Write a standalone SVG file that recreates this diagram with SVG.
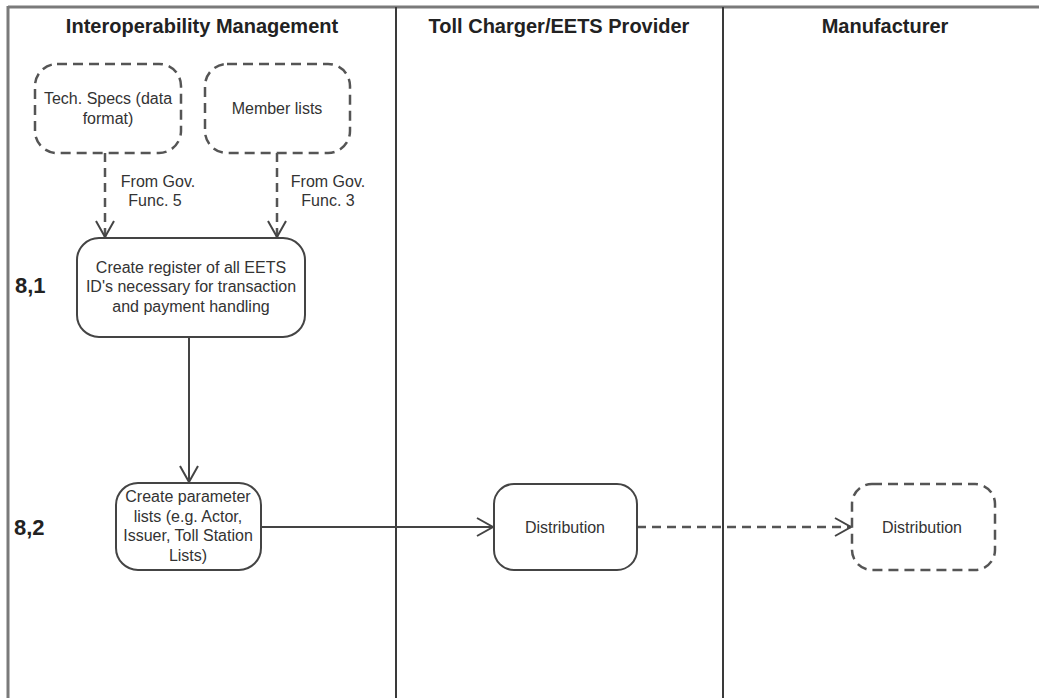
<svg xmlns="http://www.w3.org/2000/svg" width="1039" height="698" viewBox="0 0 1039 698">
  <style>
    .lane { stroke: #3a3a3a; stroke-width: 2; fill: none; }
    .frame { stroke: #7a7a7a; stroke-width: 3; fill: none; }
    .hdr { font-family: "Liberation Sans", Arial, sans-serif; font-weight: bold; font-size: 20px; fill: #222; text-anchor: middle; }
    .step { font-family: "Liberation Sans", Arial, sans-serif; font-weight: bold; font-size: 22px; fill: #222; }
    .lbl { font-family: "Liberation Sans", Arial, sans-serif; font-size: 16px; fill: #333; text-anchor: middle; }
    .box { fill: #fff; stroke: #444; stroke-width: 2; }
    .dbox { fill: #fff; stroke: #555; stroke-width: 2.5; stroke-dasharray: 10 6; }
    .flow { stroke: #444; stroke-width: 2; fill: none; marker-end: url(#arrow); }
    .dflow { stroke: #555; stroke-width: 2.5; fill: none; stroke-dasharray: 9 6; marker-end: url(#arrow); }
  </style>
  <defs>
    <marker id="arrow" markerUnits="userSpaceOnUse" markerWidth="20" markerHeight="22" viewBox="-18 -11 20 22" refX="0" refY="0" orient="auto">
      <path d="M -16 -9 L 0 0 L -16 9" fill="none" stroke="#444" stroke-width="2"/>
    </marker>
  </defs>

  <rect width="1039" height="698" fill="#fff"/>

  <!-- swimlane frame -->
  <g id="lanes">
    <line class="frame" x1="8" y1="7" x2="1039" y2="7"/>
    <line class="frame" x1="8" y1="6" x2="8" y2="698"/>
    <line class="lane" x1="396" y1="7" x2="396" y2="698"/>
    <line class="lane" x1="723" y1="7" x2="723" y2="698"/>
    <text class="hdr" x="202" y="33">Interoperability Management</text>
    <text class="hdr" x="559" y="33">Toll Charger/EETS Provider</text>
    <text class="hdr" x="885" y="33">Manufacturer</text>
    <text class="step" x="15" y="293">8,1</text>
    <text class="step" x="14" y="535">8,2</text>
  </g>

  <!-- connectors -->
  <g id="connectors">
    <line class="dflow" x1="105" y1="153" x2="105" y2="237"/>
    <line class="dflow" x1="277" y1="153" x2="277" y2="237"/>
    <text class="lbl" x="158" y="187">From Gov.</text>
    <text class="lbl" x="155" y="206">Func. 5</text>
    <text class="lbl" x="328" y="187">From Gov.</text>
    <text class="lbl" x="328" y="206">Func. 3</text>
    <line class="flow" x1="189" y1="337" x2="189" y2="482"/>
    <line class="flow" x1="261" y1="527" x2="493" y2="527"/>
    <line class="dflow" x1="637" y1="527" x2="851" y2="527"/>
  </g>

  <g id="tech-specs">
    <rect class="dbox" x="35" y="64" width="146" height="89" rx="22" ry="22"/>
    <text class="lbl" x="108" y="104">Tech. Specs (data</text>
    <text class="lbl" x="108" y="124">format)</text>
  </g>

  <g id="member-lists">
    <rect class="dbox" x="205" y="64" width="145" height="89" rx="22" ry="22"/>
    <text class="lbl" x="277" y="114">Member lists</text>
  </g>

  <g id="create-register">
    <rect class="box" x="77" y="238" width="228" height="99" rx="22" ry="22"/>
    <text class="lbl" x="191" y="273">Create register of all EETS</text>
    <text class="lbl" x="191" y="292">ID's necessary for transaction</text>
    <text class="lbl" x="191" y="312">and payment handling</text>
  </g>

  <g id="create-parameter-lists">
    <rect class="box" x="116" y="483" width="145" height="87" rx="22" ry="22"/>
    <text class="lbl" x="188" y="502">Create parameter</text>
    <text class="lbl" x="188" y="522">lists (e.g. Actor,</text>
    <text class="lbl" x="188" y="541">Issuer, Toll Station</text>
    <text class="lbl" x="188" y="561">Lists)</text>
  </g>

  <g id="distribution-toll">
    <rect class="box" x="494" y="484" width="143" height="86" rx="20" ry="20"/>
    <text class="lbl" x="565" y="533">Distribution</text>
  </g>

  <g id="distribution-manufacturer">
    <rect class="dbox" x="852" y="484" width="143" height="86" rx="20" ry="20"/>
    <text class="lbl" x="922" y="533">Distribution</text>
  </g>
</svg>
